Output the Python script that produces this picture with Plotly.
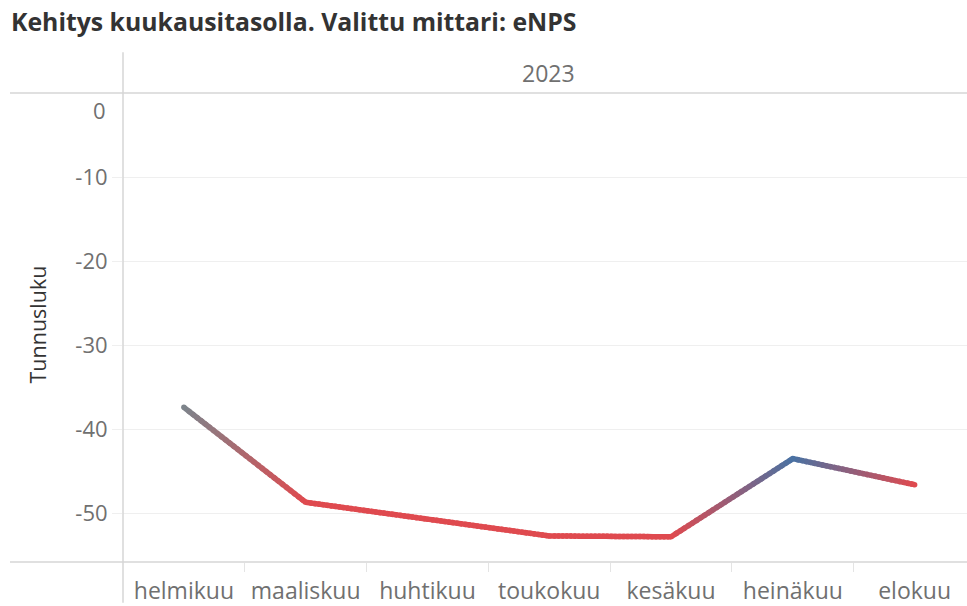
import plotly.graph_objects as go

# ---- data ----
months = ["helmikuu", "maaliskuu", "huhtikuu", "toukokuu", "kesäkuu", "heinäkuu", "elokuu"]
enps = [-37.4, -48.7, -50.7, -52.7, -52.8, -43.5, -46.6]
year_label = "2023"
y_ticks = [-10, -20, -30, -40, -50]

# ---- styles ----
point_colors = ["#7d848b", "#df4a4f", "#df4a4f", "#df4a4f", "#df4a4f", "#4a72a3", "#df4a4f"]
FONT = "Open Sans"
TICK_COL = "#707070"
AXIS_COL = "#d6d6d6"
GRID_COL = "#efefef"


def hex_to_rgb(h):
    h = h.lstrip("#")
    return tuple(int(h[i:i + 2], 16) for i in (0, 2, 4))


def mix(c1, c2, t):
    a, b = hex_to_rgb(c1), hex_to_rgb(c2)
    return "rgb(%d,%d,%d)" % tuple(round(a[k] + (b[k] - a[k]) * t) for k in range(3))


fig = go.Figure()

# gradient-coloured line: each segment split into short overlapping pieces for colour blending
N = 30
xs = list(range(len(months)))
for i in range(len(months) - 1):
    for j in range(N):
        t0, t1 = j / N, min(1.0, (j + 1.6) / N)
        fig.add_trace(go.Scatter(
            x=[xs[i] + (xs[i + 1] - xs[i]) * t0, xs[i] + (xs[i + 1] - xs[i]) * t1],
            y=[enps[i] + (enps[i + 1] - enps[i]) * t0, enps[i] + (enps[i + 1] - enps[i]) * t1],
            mode="lines",
            line=dict(color=mix(point_colors[i], point_colors[i + 1], (j + 0.5) / N), width=5.5),
            hoverinfo="skip",
            showlegend=False,
        ))

fig.add_trace(go.Scatter(
    x=xs, y=enps, mode="markers",
    marker=dict(color=point_colors, size=5.5, line=dict(width=0)),
    text=months, hovertemplate="%{text}: %{y}<extra></extra>",
    showlegend=False,
))

W, H = 967, 606
L, R, T, B = 123, 0, 93, 41
pw, ph = W - L - R, H - T - B

fig.update_layout(
    width=W, height=H,
    margin=dict(l=L, r=R, t=T, b=B),
    paper_bgcolor="white", plot_bgcolor="white",
    font=dict(family=FONT, color=TICK_COL, size=22),
    title=dict(
        text="<b>Kehitys kuukausitasolla. Valittu mittari: eNPS</b>",
        font=dict(family=FONT, size=24.8, color="#333333"),
        x=11 / W, xanchor="left", xref="container",
        y=1 - 22 / H, yanchor="middle", yref="container",
    ),
    xaxis=dict(
        range=[-0.5, 6.43],
        tickvals=xs, ticktext=months,
        ticks="outside", ticklen=8, tickcolor="rgba(0,0,0,0)",
        minor=dict(tickvals=[k + 0.5 for k in xs[:-1]], ticks="outside", ticklen=9,
                   tickcolor="#e4e4e4", tickwidth=1, showgrid=False),
        showgrid=False, zeroline=False, showline=False,
        tickfont=dict(family=FONT, size=23, color=TICK_COL),
    ),
    yaxis=dict(
        range=[-55.8, 0],
        tickvals=y_ticks, ticktext=[str(v) for v in y_ticks],
        ticks="outside", ticklen=10, tickcolor=GRID_COL,
        showgrid=True, gridcolor=GRID_COL, gridwidth=1,
        zeroline=False, showline=False,
        tickfont=dict(family=FONT, size=22, color=TICK_COL),
    ),
    shapes=[
        dict(type="line", xref="paper", yref="paper", x0=(10 - L) / pw, x1=1, y0=1, y1=1,
             line=dict(color=AXIS_COL, width=1.5)),
        dict(type="line", xref="paper", yref="paper", x0=(10 - L) / pw, x1=1, y0=0, y1=0,
             line=dict(color=AXIS_COL, width=1.5)),
        dict(type="line", xref="paper", yref="paper", x0=0, x1=0, y0=-B / ph, y1=1 + (T - 52) / ph,
             line=dict(color=AXIS_COL, width=1.5)),
    ],
    annotations=[
        dict(text=year_label, xref="paper", yref="paper", x=(548 - L) / pw, y=1 + (T - 73) / ph,
             xanchor="center", yanchor="middle", showarrow=False,
             font=dict(family=FONT, size=23, color=TICK_COL)),
        dict(text="0", xref="paper", yref="y", x=(108 - L) / pw, y=0, yshift=-17,
             xanchor="right", yanchor="middle", showarrow=False,
             font=dict(family=FONT, size=22, color=TICK_COL)),
        dict(text="Tunnusluku", xref="paper", yref="paper", x=(38 - L) / pw, y=1 - (326 - T) / ph,
             xanchor="center", yanchor="middle", textangle=-90, showarrow=False,
             font=dict(family=FONT, size=21.5, color="#333333")),
    ],
)

fig.write_html("out.html", config={"displayModeBar": False},
               post_script="document.body.style.margin='0';document.body.style.overflow='hidden';")
